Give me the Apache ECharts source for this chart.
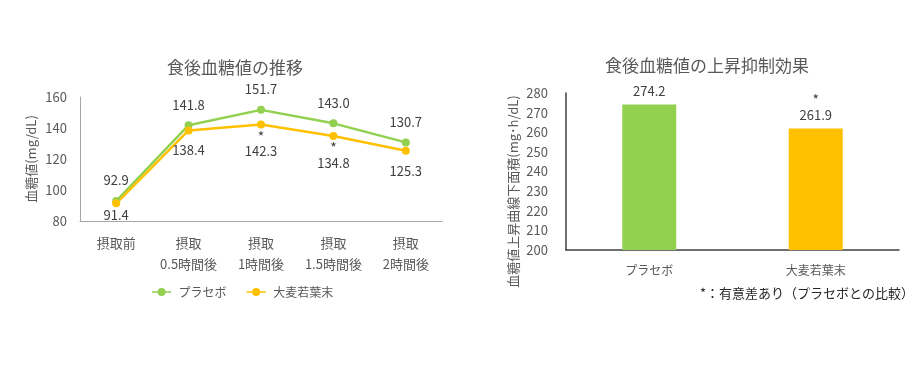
<!DOCTYPE html>
<html><head><meta charset="utf-8">
<script src="https://cdn.jsdelivr.net/npm/echarts@6/dist/echarts.min.js"></script>
<style>html,body{margin:0;padding:0;background:#fff}#c{width:919px;height:374px}</style>
</head><body><div id="c"></div>
<script>
const lineCategories = ['摂取前', '摂取\n0.5時間後', '摂取\n1時間後', '摂取\n1.5時間後', '摂取\n2時間後'];
const placeboValues = [92.9, 141.8, 151.7, 143.0, 130.7];
const barleyValues = [91.4, 138.4, 142.3, 134.8, 125.3];
const barleySignificant = [false, false, true, true, false];
const yTicksLine = { min: 80, max: 160, interval: 20 };

const barCategories = ['プラセボ', '大麦若葉末'];
const aucValues = [274.2, 261.9];
const aucSignificant = [false, true];
const yTicksBar = { min: 200, max: 280, interval: 10 };

const GREEN = '#92D050', ORANGE = '#FFC000', TXT = '#595959', LBL = '#404040';
const FONT = '"Noto Sans CJK JP", "DejaVu Sans", sans-serif';

const richStyles = {
  a: { fontSize: 14, lineHeight: 12, color: LBL, fontFamily: FONT },
  v: { fontSize: 13, lineHeight: 18, color: LBL, fontFamily: FONT }
};

const chart = echarts.init(document.getElementById('c'));
chart.setOption({
  animation: false,
  textStyle: { fontFamily: FONT, color: TXT },
  title: [
    { text: '食後血糖値の推移', left: 230, top: 54, textAlign: 'center',
      textStyle: { fontSize: 17, fontWeight: 'normal', color: TXT, fontFamily: FONT } },
    { text: '食後血糖値の上昇抑制効果', left: 702, top: 52, textAlign: 'center',
      textStyle: { fontSize: 17, fontWeight: 'normal', color: TXT, fontFamily: FONT } }
  ],
  legend: {
    left: 147, top: 281, itemWidth: 24, itemHeight: 8, itemGap: 20,
    textStyle: { fontSize: 12, color: TXT, fontFamily: FONT },
    data: [
      { name: 'プラセボ', icon: 'path://M0,4 L24,4 L24,6 L0,6 Z M12,0 A5,5 0 1,1 11.99,0 Z' },
      { name: '大麦若葉末', icon: 'path://M0,4 L24,4 L24,6 L0,6 Z M12,0 A5,5 0 1,1 11.99,0 Z' }
    ]
  },
  grid: [
    { left: 80, right: 477, top: 97, bottom: 153 },
    { left: 566, right: 20, top: 93, bottom: 124 }
  ],
  xAxis: [
    { type: 'category', gridIndex: 0, data: lineCategories, boundaryGap: true,
      axisLine: { lineStyle: { color: '#A6A6A6', width: 1 } }, axisTick: { show: false },
      axisLabel: { interval: 0, color: TXT, fontSize: 13, margin: 12, lineHeight: 21, fontFamily: FONT } },
    { type: 'category', gridIndex: 1, data: barCategories,
      axisLine: { lineStyle: { color: '#404040', width: 1.5 } }, axisTick: { show: false },
      axisLabel: { interval: 0, color: TXT, fontSize: 12, margin: 14, fontFamily: FONT } }
  ],
  yAxis: [
    { type: 'value', gridIndex: 0, min: yTicksLine.min, max: yTicksLine.max, interval: yTicksLine.interval,
      name: '血糖値(mg/dL)', nameLocation: 'middle', nameGap: 42,
      nameTextStyle: { fontSize: 13, color: TXT, fontFamily: FONT },
      axisLine: { show: true, lineStyle: { color: '#A6A6A6', width: 1 } }, axisTick: { show: false },
      splitLine: { show: false },
      axisLabel: { color: TXT, fontSize: 13, margin: 13, fontFamily: FONT } },
    { type: 'value', gridIndex: 1, min: yTicksBar.min, max: yTicksBar.max, interval: yTicksBar.interval,
      name: '血糖値上昇曲線下面積(mg･h/dL)', nameLocation: 'middle', nameGap: 46,
      nameTextStyle: { fontSize: 13, color: TXT, fontFamily: FONT, padding: [0, 40, 0, 0] },
      axisLine: { show: true, lineStyle: { color: '#404040', width: 1.5 } }, axisTick: { show: false },
      splitLine: { show: false },
      axisLabel: { color: TXT, fontSize: 13, margin: 18, fontFamily: FONT } }
  ],
  series: [
    { name: 'プラセボ', type: 'line', xAxisIndex: 0, yAxisIndex: 0, data: placeboValues,
      symbol: 'circle', symbolSize: 8, color: GREEN, lineStyle: { width: 2.5, color: GREEN },
      itemStyle: { color: GREEN },
      label: { show: true, position: 'top', distance: 10, fontSize: 13, color: LBL, fontFamily: FONT,
        formatter: p => p.value.toFixed(1) } },
    { name: '大麦若葉末', type: 'line', xAxisIndex: 0, yAxisIndex: 0,
      data: barleyValues.map((v, i) => ({
        value: v,
        label: { distance: i === 0 ? -1 : (barleySignificant[i] ? 2 : 7) }
      })),
      symbol: 'circle', symbolSize: 8, color: ORANGE, lineStyle: { width: 2.5, color: ORANGE },
      itemStyle: { color: ORANGE },
      label: { show: true, position: 'bottom', rich: richStyles,
        formatter: p => (barleySignificant[p.dataIndex] ? '{a|*}\n' : '') + '{v|' + p.value.toFixed(1) + '}' } },
    { name: 'AUC', type: 'bar', xAxisIndex: 1, yAxisIndex: 1, barWidth: 54,
      data: aucValues.map((v, i) => ({ value: v, itemStyle: { color: i === 0 ? GREEN : ORANGE } })),
      label: { show: true, position: 'top', distance: 4, rich: { a: { fontSize: 14, lineHeight: 14, color: LBL, fontFamily: FONT }, v: { fontSize: 13, lineHeight: 18, color: LBL, fontFamily: FONT } },
        formatter: p => (aucSignificant[p.dataIndex] ? '{a|*}\n' : '') + '{v|' + p.value.toFixed(1) + '}' } }
  ],
  graphic: [
    { type: 'text', left: 700, top: 287,
      style: { text: '*：有意差あり（プラセボとの比較）', fontSize: 13, fill: '#262626', fontFamily: FONT } }
  ]
});
</script></body></html>
